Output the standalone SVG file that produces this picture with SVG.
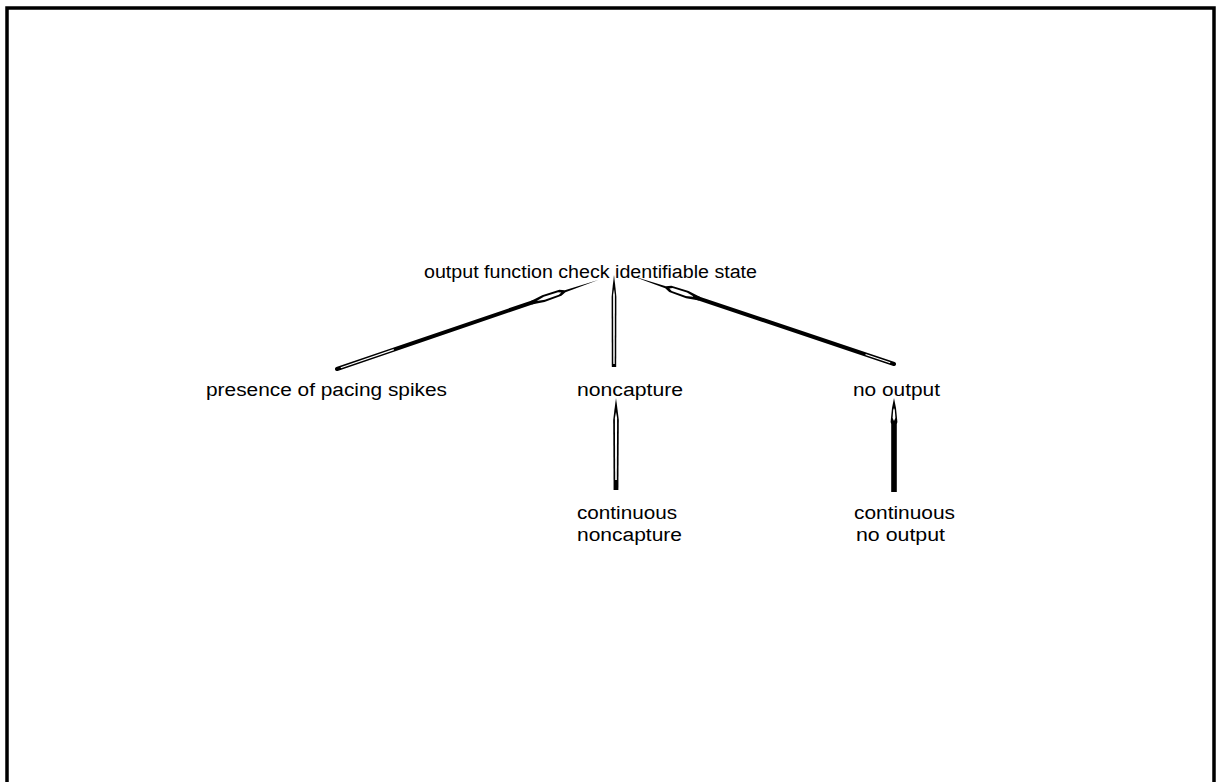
<svg xmlns="http://www.w3.org/2000/svg" width="1220" height="782" viewBox="0 0 1220 782">
  <defs>
    <style>
      .lbl { font-family: "Liberation Sans", Arial, sans-serif; font-size: 18px; fill: #000; }
      .frame { fill: none; stroke: #000; stroke-width: 3.5; }
      .body { stroke: #000; stroke-width: 4; stroke-linecap: round; fill: none; }
      .core { stroke: #fff; stroke-width: 1.2; fill: none; }
      .ink { fill: #000; }
      .hole { fill: #fff; }
    </style>
  </defs>
  <rect width="1220" height="782" fill="#fff"/>

  <!-- outer frame, open at the bottom -->
  <path class="frame" d="M7,782 L7,8 L1214,8 L1214,782"/>

  <!-- nodes -->
  <g id="node-state">
    <text class="lbl" x="424" y="278" textLength="333" lengthAdjust="spacingAndGlyphs">output function check identifiable state</text>
  </g>
  <g id="node-spikes">
    <text class="lbl" x="206" y="396" textLength="241" lengthAdjust="spacingAndGlyphs">presence of pacing spikes</text>
  </g>
  <g id="node-noncapture">
    <text class="lbl" x="577" y="396" textLength="106" lengthAdjust="spacingAndGlyphs">noncapture</text>
  </g>
  <g id="node-nooutput">
    <text class="lbl" x="853" y="396" textLength="87" lengthAdjust="spacingAndGlyphs">no output</text>
  </g>
  <g id="node-cont-noncapture">
    <text class="lbl" x="577" y="519" textLength="100" lengthAdjust="spacingAndGlyphs">continuous</text>
    <text class="lbl" x="577" y="541" textLength="105" lengthAdjust="spacingAndGlyphs">noncapture</text>
  </g>
  <g id="node-cont-nooutput">
    <text class="lbl" x="854" y="519" textLength="101" lengthAdjust="spacingAndGlyphs">continuous</text>
    <text class="lbl" x="856" y="541" textLength="89" lengthAdjust="spacingAndGlyphs">no output</text>
  </g>

  <!-- connectors: drawn from tail (x=0) to tip (x=L) along local +x -->
  <g id="connectors">
    <!-- presence of pacing spikes -> state -->
    <g transform="translate(337,369) rotate(-18.83)">
      <line class="body" x1="0" y1="0" x2="208" y2="0"/>
      <line class="core" x1="4" y1="0" x2="60" y2="0"/>
      <polygon class="ink" points="205,-1.8 218,-3.6 236,-3.2 241,-1 276,0 241,1 236,3.2 218,3.6 205,1.8"/>
      <polygon class="hole" points="211,0 219,-1.6 234,-1.3 237,0 234,1.3 219,1.6"/>
    </g>
    <!-- no output -> state -->
    <g transform="translate(894,364) rotate(-161.44)">
      <line class="body" x1="0" y1="0" x2="208" y2="0"/>
      <line class="core" x1="4" y1="0" x2="30" y2="0"/>
      <polygon class="ink" points="205,-1.8 218,-3.8 236,-3.4 241,-1 277,0 241,1 236,3.4 218,3.8 205,1.8"/>
      <polygon class="hole" points="211,0 219,-1.8 234,-1.5 237,0 234,1.5 219,1.8"/>
    </g>
    <!-- noncapture -> state -->
    <g transform="translate(614,367) rotate(-90)">
      <polygon class="ink" points="0,-2.2 70,-2.4 80,-1.4 92,0 80,1.4 70,2.4 0,2.2"/>
      <polygon class="hole" points="3,-0.7 72,-0.9 78,0 72,0.9 3,0.7"/>
    </g>
    <!-- continuous noncapture -> noncapture -->
    <g transform="translate(616,490) rotate(-90)">
      <polygon class="ink" points="0,-2.4 70,-2.8 80,-1.6 92,0 80,1.6 70,2.8 0,2.4"/>
      <polygon class="hole" points="10,-0.8 72,-1.1 78,0 72,1.1 10,0.8"/>
    </g>
    <!-- continuous no output -> no output -->
    <g transform="translate(894,492) rotate(-90)">
      <polygon class="ink" points="0,-2.8 68,-2.8 70,-3.4 84,-2 94,0 84,2 70,3.4 68,2.8 0,2.8"/>
      <polygon class="hole" points="71,0 74,-1.4 82,-0.8 84,0 82,0.8 74,1.4"/>
    </g>
  </g>
</svg>
